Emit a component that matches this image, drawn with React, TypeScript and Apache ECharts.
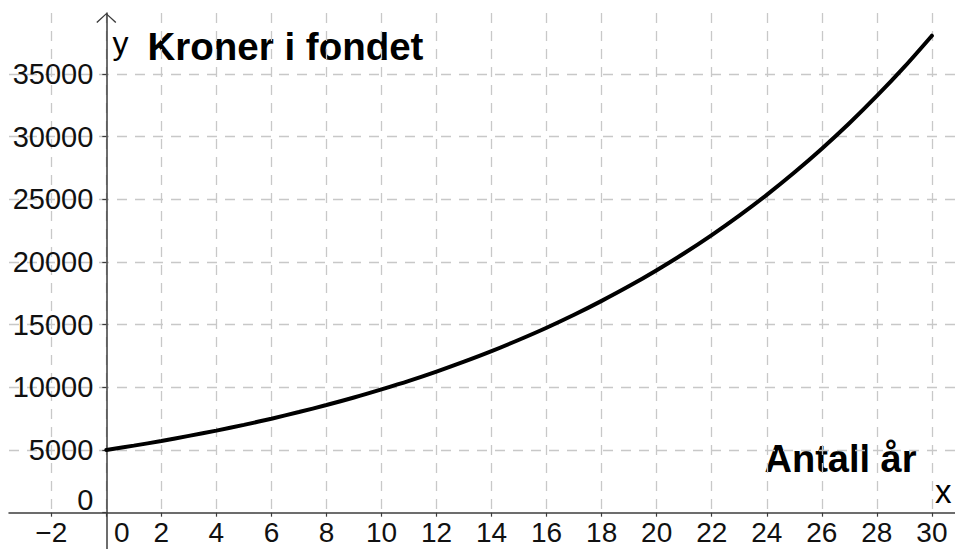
import React, { useEffect, useRef } from "react";
import * as echarts from "echarts";

// Years (x) and value of the fund in kroner (y)
const YEARS = [0, 1, 2, 3, 4, 5, 6, 7, 8, 9, 10, 11, 12, 13, 14, 15, 16, 17, 18, 19, 20, 21, 22, 23, 24, 25, 26, 27, 28, 29, 30];
const KRONER = [5000, 5350, 5720, 6130, 6550, 7010, 7500, 8030, 8590, 9190, 9840, 10520, 11260, 12050, 12890, 13800, 14760, 15790, 16900, 18080, 19350, 20700, 22150, 23700, 25360, 27140, 29040, 31070, 33250, 35570, 38060];

// Axis ranges and tick steps
const X_RANGE = [-3.536, 30.84];
const Y_RANGE = [0, 39870];
const X_STEP = 2;
const Y_STEP = 5000;

// Texts
const Y_NAME = "y";
const X_NAME = "x";
const Y_TITLE = "Kroner i fondet";
const X_TITLE = "Antall år";

const FONT = "'Liberation Sans', Arial, Helvetica, sans-serif";
const AXIS_COLOR = "#3c3c3c";
const GRID_COLOR = "#c8c8c8";
const Y_LABEL_SIZE = 29;
const X_LABEL_SIZE = 28;

const CHEVRON = "path://M0,9 L10,0 L20,9 L19,10 L10,1.6 L1,10 Z";

const GRID_LEFT = 9;
const GRID_WIDTH = 955 - GRID_LEFT;

export default function App() {
  const ref = useRef<HTMLDivElement>(null);

  useEffect(() => {
    if (!ref.current) return;
    const chart = echarts.init(ref.current, null, { renderer: "svg" });
    const minus = (v: number) => String(v).replace("-", "\u2212");
    // pixel distance from the grid's left edge to x = 0
    const zeroOffset = ((0 - X_RANGE[0]) / (X_RANGE[1] - X_RANGE[0])) * GRID_WIDTH;

    const option: any = {
      animation: false,
      backgroundColor: "#ffffff",
      grid: [
        { left: GRID_LEFT, right: 0, top: 13, bottom: 36.3, outerBoundsMode: "none", containLabel: false },
        { left: GRID_LEFT, right: 0, top: 512.7, bottom: 0, outerBoundsMode: "none", containLabel: false },
      ],
      xAxis: [
        {
          type: "value",
          gridIndex: 0,
          min: X_RANGE[0],
          max: X_RANGE[1],
          minInterval: X_STEP,
          maxInterval: X_STEP,
          splitNumber: 17,
          axisLine: { show: true, onZero: true, lineStyle: { color: AXIS_COLOR, width: 1.5 } },
          axisTick: { show: true, length: 4, lineStyle: { color: AXIS_COLOR, width: 1.2 } },
          axisLabel: {
            show: true,
            margin: 8,
            color: "#111111",
            fontSize: X_LABEL_SIZE,
            lineHeight: 24,
            fontFamily: FONT,
            showMinLabel: false,
            showMaxLabel: false,
            formatter: (v: number) => (v === 0 ? "{o|0}" : minus(v)),
            rich: { o: { fontSize: X_LABEL_SIZE, lineHeight: 24, fontFamily: FONT, color: "#111111", padding: [0, 0, 0, 31] } },
          },
          splitLine: {
            show: true,
            showMinLine: false,
            showMaxLine: false,
            lineStyle: { color: GRID_COLOR, width: 1.3, type: [10, 8] },
          },
        },
        {
          type: "value",
          gridIndex: 1,
          min: X_RANGE[0],
          max: X_RANGE[1],
          show: false,
        },
      ],
      yAxis: [
        {
          type: "value",
          gridIndex: 0,
          position: "left",
          offset: -zeroOffset,
          min: Y_RANGE[0],
          max: Y_RANGE[1],
          minInterval: Y_STEP,
          maxInterval: Y_STEP,
          splitNumber: 8,
          axisLine: {
            show: true,
            onZero: false,
            symbol: ["none", CHEVRON],
            symbolSize: [20, 10],
            symbolOffset: [0, -5],
            lineStyle: { color: AXIS_COLOR, width: 1.5 },
          },
          axisTick: { show: true, length: 4, lineStyle: { color: AXIS_COLOR, width: 1.2 } },
          axisLabel: {
            show: true,
            margin: 13,
            color: "#111111",
            fontSize: Y_LABEL_SIZE,
            fontFamily: FONT,
            showMinLabel: true,
            showMaxLabel: false,
            formatter: (v: number) => (v === 0 ? "{o|0}" : minus(v)),
            rich: { o: { fontSize: Y_LABEL_SIZE, fontFamily: FONT, color: "#111111", padding: [0, 0, 25, 0] } },
          },
          splitLine: {
            show: true,
            showMinLine: false,
            showMaxLine: false,
            lineStyle: { color: GRID_COLOR, width: 1.3, type: [10, 8] },
          },
        },
        {
          type: "value",
          gridIndex: 1,
          position: "left",
          offset: -zeroOffset,
          min: 0,
          max: 1,
          axisLine: { show: true, onZero: false, lineStyle: { color: AXIS_COLOR, width: 1.5 } },
          axisTick: { show: false },
          axisLabel: { show: false },
          splitLine: { show: false },
        },
      ],
      series: [
        {
          type: "line",
          xAxisIndex: 0,
          yAxisIndex: 0,
          data: YEARS.map((x, i) => [x, KRONER[i]]),
          smooth: 0.3,
          showSymbol: false,
          symbol: "none",
          lineStyle: { color: "#000000", width: 4, cap: "round" },
          silent: true,
        },
      ],
      graphic: [
        {
          type: "text",
          style: { text: Y_NAME, x: 112.5, y: 42.5, fontSize: 32, fontFamily: FONT, fill: "#000", verticalAlign: "middle", align: "left" },
        },
        {
          type: "text",
          style: { text: Y_TITLE, x: 147.5, y: 46, fontSize: 38.5, fontWeight: "bold", fontFamily: FONT, fill: "#000", verticalAlign: "middle", align: "left" },
        },
        {
          type: "text",
          style: { text: X_TITLE, x: 764.5, y: 458.8, fontSize: 38, fontWeight: "bold", fontFamily: FONT, fill: "#000", verticalAlign: "middle", align: "left" },
        },
        {
          type: "text",
          style: { text: X_NAME, x: 935, y: 491.6, fontSize: 33, fontFamily: FONT, fill: "#000", verticalAlign: "middle", align: "left" },
        },
      ],
    };

    chart.setOption(option);
    return () => chart.dispose();
  }, []);

  return (
    <div
      ref={ref}
      style={{ position: "fixed", left: 0, top: 0, width: 955, height: 549, background: "#fff" }}
    />
  );
}
